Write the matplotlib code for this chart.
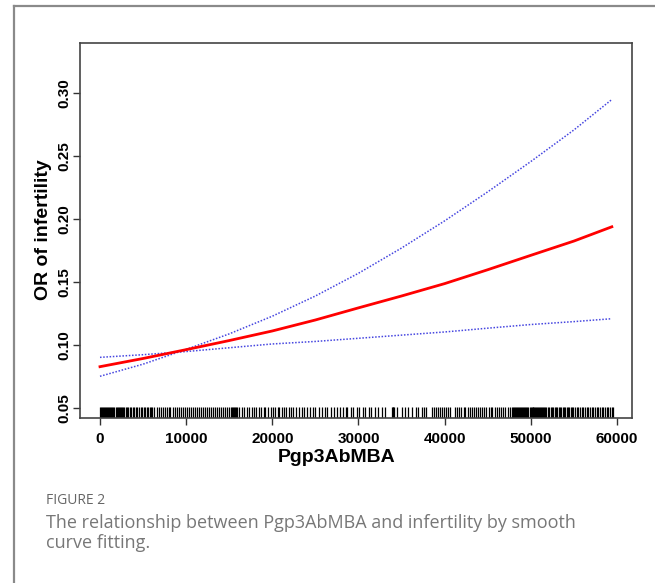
import matplotlib
matplotlib.use("Agg")
import matplotlib.pyplot as plt
from matplotlib.lines import Line2D
import matplotlib.transforms as mtransforms

# ---------------- data ----------------
x_pts = [0, 5000, 10000, 15000, 20000, 25000, 30000, 35000, 40000, 45000, 50000, 55000, 59400]
or_fit = [0.083, 0.0895, 0.0965, 0.1037, 0.1113, 0.1200, 0.1296, 0.1390, 0.1488, 0.1598, 0.1712, 0.1825, 0.1938]
ci_a = [0.0754, 0.0850, 0.0967, 0.1090, 0.1230, 0.1390, 0.1570, 0.1770, 0.1985, 0.2215, 0.2455, 0.2705, 0.2946]
ci_b = [0.0904, 0.0925, 0.0950, 0.0980, 0.1010, 0.1030, 0.1055, 0.1080, 0.1105, 0.1135, 0.1164, 0.1187, 0.1210]

rug_x = [
    0, 120, 240, 360, 480, 600, 720, 840, 960, 1080, 1200, 1320, 1440, 1560, 1680, 1800,
    1920, 2040, 2160, 2280, 2400, 2520, 2640, 2760,
    2980, 3130, 3290, 3480, 3640, 3830, 3990, 4180, 4330, 4490, 4760, 4910, 5110, 5260,
    5420, 5610, 5770, 5920, 6070, 6230,
    6580, 6790, 7050, 7260, 7500, 7720, 7990, 8180, 8450, 8660, 8890, 9150, 9350, 9620,
    9820, 10080, 10290, 10540, 10750, 11010, 11220, 11470, 11700, 11920, 12170, 12380,
    12630, 12850, 13100, 13310, 13560, 13780, 14030, 14240, 14490, 14710, 14960, 15170,
    15290, 15400, 15520, 15640, 15760, 15860,
    16150, 16480, 16700, 17050, 17300, 17650, 17850, 18100, 18400, 18700, 19000, 19200,
    19500, 19900, 20100, 20350, 20600, 20800, 21100, 21300, 21600, 21900, 22200, 22400,
    22700, 23100, 23400, 23700, 24000, 24400, 24700, 25000, 25400, 25800, 26100, 26400,
    26800, 27100, 27500, 27800, 28200, 28500, 28700, 29100, 29400, 29800, 30100, 30500,
    30800, 31200, 31500, 31900, 32300, 32700, 33100,
    33850, 33950, 34050, 34150,
    34430, 35010, 35400, 35780, 36160, 36670, 36940, 37330, 37600, 37830,
    38490, 38720, 38960, 39190, 39420, 39650, 39890, 40120, 40390, 40620,
    41200, 41450, 41700, 41900, 42200, 42400, 42700, 42900, 43150, 43400, 43650, 43900,
    44100, 44350, 44600, 44850, 45100, 45350, 45550, 45800, 46050, 46300, 46550, 46800,
    47050, 47300, 47550,
    47780, 47900, 48020, 48140, 48260, 48390, 48500, 48630, 48750, 48870, 49000, 49120,
    49240, 49360, 49480, 49600, 49720, 49850, 49970, 50090, 50200,
    50290, 50410, 50520, 50640, 50760, 50870, 50990, 51100, 51220, 51340, 51450, 51570,
    51690, 51800,
    51990, 52150, 52300, 52450, 52610, 52770, 52920, 53080, 53230, 53390, 53540, 53700,
    53850, 54010, 54160, 54320, 54470, 54630, 54780, 54930,
    55130, 55320, 55520, 55710, 55900, 56100, 56290, 56490, 56680, 56880, 57070, 57260,
    57460, 57650, 57850, 58040, 58230, 58430, 58620, 58820, 59010, 59200, 59400, 59570]

x_ticks = [0, 10000, 20000, 30000, 40000, 50000, 60000]
y_ticks = [0.05, 0.10, 0.15, 0.20, 0.25, 0.30]
x_label = "Pgp3AbMBA"
y_label = "OR of infertility"
caption_title = "FIGURE 2"
caption_text = "The relationship between Pgp3AbMBA and infertility by smooth\ncurve fitting."

# ---------------- figure ----------------
W, H = 655, 583
fig = plt.figure(figsize=(W / 100, H / 100), dpi=100)
fig.patch.set_facecolor("white")

# outer article frame (top and left edges visible)
fig.add_artist(Line2D([14 / W, 14 / W], [0, 1 - 6 / H], color="#8a8a8a", lw=1.6,
                      transform=fig.transFigure))
fig.add_artist(Line2D([14 / W, 1], [1 - 6 / H, 1 - 6 / H], color="#8a8a8a", lw=1.6,
                      transform=fig.transFigure))

left, right, top, bottom = 80, 632.3, 42.7, 417.7
ax = fig.add_axes([left / W, 1 - bottom / H, (right - left) / W, (bottom - top) / H])

ax.plot(x_pts, ci_a, color="#4646e0", lw=1.1, ls=(0, (1, 1.1)))
ax.plot(x_pts, ci_b, color="#4646e0", lw=1.1, ls=(0, (1, 1.1)))
ax.plot(x_pts, or_fit, color="#ff0000", lw=2.0)

trans = mtransforms.blended_transform_factory(ax.transData, ax.transAxes)
ax.vlines(rug_x, 0, 11 / (bottom - top), transform=trans, color="black", lw=0.9)

ax.set_xlim(-2321, 61776)
ax.set_ylim(0.0426, 0.3396)

ax.set_xticks(x_ticks)
ax.set_xticklabels([str(v) for v in x_ticks])
ax.set_yticks(y_ticks)
ax.set_yticklabels([f"{v:.2f}" for v in y_ticks], rotation=90, va="center")

for lab in ax.get_xticklabels() + ax.get_yticklabels():
    lab.set_fontfamily("Liberation Sans")
    lab.set_fontweight("bold")
    lab.set_fontsize(11)
ax.tick_params(axis="both", length=5, width=1, color="#333333")
ax.tick_params(axis="x", pad=5)
ax.tick_params(axis="y", pad=1)
for s in ax.spines.values():
    s.set_linewidth(1.2)
    s.set_color("#444444")

fig.text(337 / W, 1 - 458 / H, x_label, ha="center", va="center",
         fontfamily="Liberation Sans", fontweight="bold", fontsize=14)
fig.text(44 / W, 1 - 230 / H, y_label, ha="center", va="center", rotation=90,
         fontfamily="Liberation Sans", fontweight="bold", fontsize=14)

fig.text(46 / W, 1 - 501 / H, caption_title, ha="left", va="center",
         fontfamily="Open Sans", fontsize=10, color="#666666")
fig.text(46 / W, 1 - 533 / H, caption_text, ha="left", va="center",
         fontfamily="Open Sans", fontsize=13, color="#777777", linespacing=1.2)

fig.savefig("out.png", dpi=100, facecolor="white")
